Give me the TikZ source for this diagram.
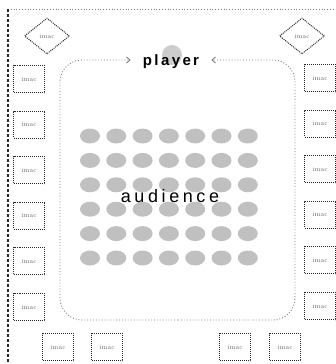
\documentclass[tikz,border=0pt]{standalone}
\usepackage{fontspec}
\usepackage{tikz}
\usetikzlibrary{arrows.meta,shapes.geometric}
\newfontfamily\stagebold[LetterSpace=16]{Liberation Sans Bold}
\newfontfamily\stagesans[LetterSpace=20]{Liberation Sans}
\definecolor{ink}{RGB}{40,40,40}
\definecolor{rim}{RGB}{125,125,125}
\definecolor{seatgray}{RGB}{192,192,192}
\tikzset{
  imac/.style={draw=ink,densely dotted,line width=1pt,minimum width=31pt,minimum height=27pt,
    inner sep=0pt,font=\fontsize{6.5}{7}\selectfont,text=ink!70},
  imacd/.style={imac,diamond,minimum width=45pt,minimum height=36pt},
  seat/.style={ellipse,fill=seatgray,minimum width=20pt,minimum height=15pt,inner sep=0pt},
  rimarr/.style={draw=rim,dotted,line width=0.9pt,rounded corners=22pt,
    -{Straight Barb[length=3.5pt,width=6pt]}},
}

\begin{document}
\begin{tikzpicture}[x=1pt,y=-1pt]
\useasboundingbox (0,0) rectangle (335,364);
% room frame
\draw[rim,dotted,line width=0.8pt] (8,9) -- (345,9);
\draw[ink,densely dashed,line width=1.1pt] (8,9) -- (8,370);
% corner stations
\node[imacd] (dl) at (47,36) {imac};
\node[imacd] (dr) at (302,36) {imac};
% side stations
\foreach \i in {0,...,5} {
  \node[imac] (l\i) at (29,79+45.6*\i) {imac};
  \node[imac] (r\i) at (320,78+45.6*\i) {imac};
}
% bottom stations
\foreach \x [count=\i] in {58,107,235,285}
  \node[imac] (b\i) at (\x,347) {imac};
% audience seats
\foreach \c in {0,...,6}
  \foreach \r in {0,...,5}
    \node[seat] (s\c\r) at (90+26.3*\c,136+24.4*\r) {};
\node[font=\stagesans\fontsize{18}{20}\selectfont,text=black] (aud) at (170,196) {audience};
% player
\node[circle,fill=seatgray!80,minimum size=20pt,inner sep=0pt] (pseat) at (172,55) {};
\node[font=\stagebold\fontsize{15}{17}\selectfont,inner sep=2pt] (player) at (171,62) {player};
\coordinate (bm) at (178,320);
\draw[rimarr] (bm) -- (60,320) |- ([xshift=-10pt,yshift=2pt]player.west);
\draw[rimarr] (bm) -- (295,320) |- ([xshift=10pt,yshift=2pt]player.east);
\end{tikzpicture}
\end{document}
